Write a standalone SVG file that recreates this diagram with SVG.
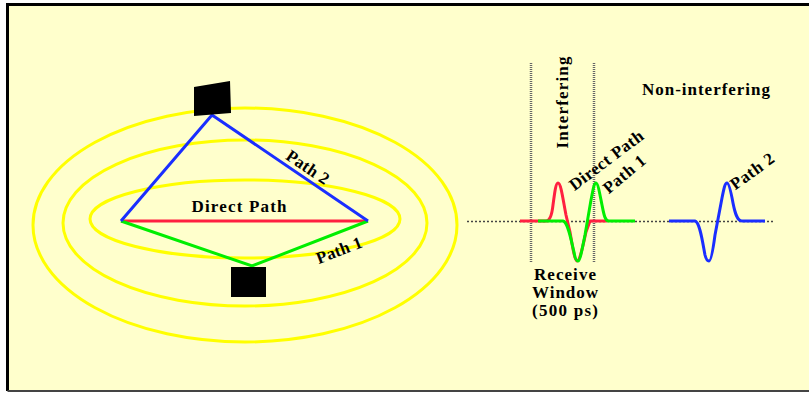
<svg xmlns="http://www.w3.org/2000/svg" width="809" height="393" viewBox="0 0 809 393">
<defs>
<style>
.t{font-family:"Liberation Serif","Times New Roman",serif;font-weight:bold;font-size:17px;fill:#000}
.ell{fill:none;stroke:#FFFF00;stroke-width:3}
.dot{stroke:#444;stroke-width:1.5;stroke-dasharray:2 2;fill:none}
.vdot{stroke:#666;stroke-width:2.5;stroke-dasharray:1 1;fill:none}
.w{fill:none;stroke-width:3;stroke-linejoin:round}
</style>
</defs>
<rect x="0" y="0" width="809" height="393" fill="#FFFFFF"/>
<rect x="7.5" y="4.5" width="812" height="386" fill="#FFFFCC"/>
<path d="M7.5,391 V4.5 H809" fill="none" stroke="#000" stroke-width="3"/>
<path d="M7.5,391 H809" fill="none" stroke="#444" stroke-width="2"/>

<g id="field">
<ellipse class="ell" cx="245" cy="225" rx="212" ry="117"/>
<ellipse class="ell" cx="245" cy="223" rx="182" ry="83"/>
<ellipse class="ell" cx="245" cy="219" rx="155" ry="39"/>
</g>

<g id="connectors">
<line x1="121" y1="221" x2="368" y2="221" stroke="#FF2040" stroke-width="3"/>
<polyline points="121,221 252,266 368,221" fill="none" stroke="#00EE00" stroke-width="3"/>
<polyline points="121,221 212,115 368,221" fill="none" stroke="#1A2EFF" stroke-width="3"/>
</g>

<g id="tx">
<polygon points="194,87 230,81 231,113 194,116" fill="#000"/>
</g>
<g id="rx">
<rect x="231" y="267" width="35" height="30" fill="#000"/>
</g>

<g id="labels-left">
<text class="t" x="239" y="212" text-anchor="middle" textLength="95" lengthAdjust="spacing">Direct Path</text>
<text class="t" x="308" y="167" dy="0.35em" text-anchor="middle" font-size="15" textLength="48" lengthAdjust="spacing" transform="rotate(34 308 167)">Path 2</text>
<text class="t" x="339" y="250" dy="0.35em" text-anchor="middle" font-size="15" textLength="48" lengthAdjust="spacing" transform="rotate(-21 339 250)">Path 1</text>
</g>

<g id="timeline">
<line class="dot" x1="467" y1="221.5" x2="773" y2="221.5"/>
<line class="vdot" x1="531" y1="63" x2="531" y2="263"/>
<line class="vdot" x1="594" y1="63" x2="594" y2="263"/>
</g>

<g id="pulse-direct">
<path class="w" stroke="#FF2040" d="M520,221 H546 C550,221 552,214 553,205 C555,190 556,183 558,183 C561,183 563,200 566,215 L570,232 C573,250 575,261 577,261 C580,261 583,245 586,232 L590,221 H607"/>
</g>
<g id="pulse-path1">
<path class="w" stroke="#00EE00" d="M538,221 H563 C568,222 571,240 574,252 C575,258 576,261 578,261 C580,261 582,250 585,235 L591,200 C593,190 594,183 596,183 C598,183 600,195 602,205 C604,215 605,221 609,221 H635"/>
</g>
<g id="pulse-path2">
<path class="w" stroke="#1A2EFF" d="M669,221 H695 C700,222 703,245 705,255 C706,259 707,261 709,261 C711,261 713,250 715,235 L722,198 C724,188 725,183 727,183 C729,183 731,192 733,203 C735,213 737,221 742,221 H765"/>
</g>

<g id="labels-right">
<text class="t" x="568" y="102.5" text-anchor="middle" textLength="92" lengthAdjust="spacing" transform="rotate(-90 568 102.5)">Interfering</text>
<text class="t" x="642" y="95" textLength="128" lengthAdjust="spacing">Non-interfering</text>
<text class="t" x="606" y="160" dy="0.35em" text-anchor="middle" textLength="88" lengthAdjust="spacing" transform="rotate(-37 606 160)">Direct Path</text>
<text class="t" x="624" y="174" dy="0.35em" text-anchor="middle" font-size="15" textLength="50" lengthAdjust="spacing" transform="rotate(-40 624 174)">Path 1</text>
<text class="t" x="752" y="171" dy="0.35em" text-anchor="middle" font-size="15" textLength="50" lengthAdjust="spacing" transform="rotate(-36 752 171)">Path 2</text>
<text class="t" x="565" y="280" text-anchor="middle" textLength="62" lengthAdjust="spacing">Receive</text>
<text class="t" x="565" y="298" text-anchor="middle" textLength="66" lengthAdjust="spacing">Window</text>
<text class="t" x="565" y="316" text-anchor="middle" textLength="66" lengthAdjust="spacing">(500 ps)</text>
</g>
</svg>
